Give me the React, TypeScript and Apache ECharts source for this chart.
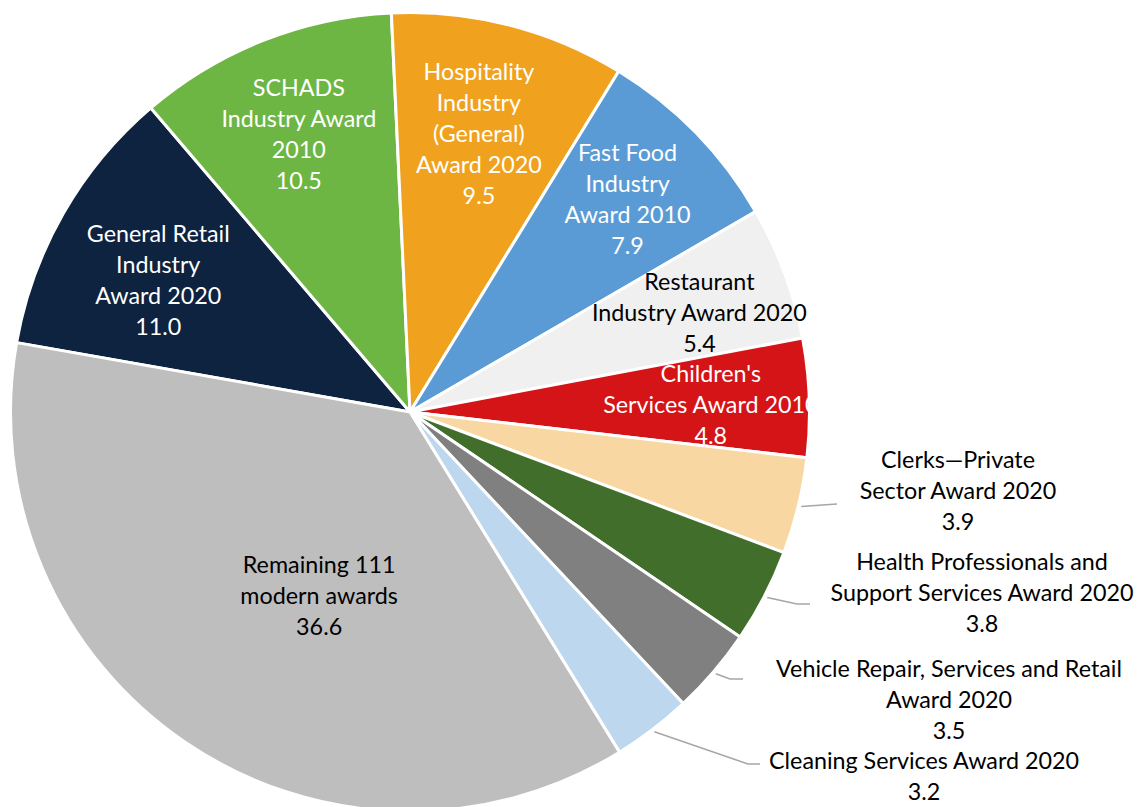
import React, { useEffect, useRef } from "react";
import * as echarts from "echarts";

// ---- data ----
const categories = [
  "General Retail Industry Award 2020",
  "SCHADS Industry Award 2010",
  "Hospitality Industry (General) Award 2020",
  "Fast Food Industry Award 2010",
  "Restaurant Industry Award 2020",
  "Children's Services Award 2010",
  "Clerks\u2014Private Sector Award 2020",
  "Health Professionals and Support Services Award 2020",
  "Vehicle Repair, Services and Retail Award 2020",
  "Cleaning Services Award 2020",
  "Remaining 111 modern awards",
];
const values = [11.0, 10.5, 9.5, 7.9, 5.4, 4.8, 3.9, 3.8, 3.5, 3.2, 36.6];
const labelTexts = [
  "General Retail\nIndustry\nAward 2020",
  "SCHADS\nIndustry Award\n2010",
  "Hospitality\nIndustry\n(General)\nAward 2020",
  "Fast Food\nIndustry\nAward 2010",
  "Restaurant\nIndustry Award 2020",
  "Children's\nServices Award 2010",
  "Clerks\u2014Private\nSector Award 2020",
  "Health Professionals and\nSupport Services Award 2020",
  "Vehicle Repair, Services and Retail\nAward 2020",
  "Cleaning Services Award 2020",
  "Remaining 111\nmodern awards",
];

// ---- styles ----
const sliceColors = [
  "#0E2340", "#6DB644", "#F0A21E", "#5B9BD5", "#F0F0F0", "#D51418",
  "#F8D7A3", "#426E2B", "#808080", "#BDD7EE", "#BEBEBE",
];
const textColors = [
  "#FFFFFF", "#FFFFFF", "#FFFFFF", "#FFFFFF", "#000000", "#FFFFFF",
  "#000000", "#000000", "#000000", "#000000", "#000000",
];
const outsideLabel = [false, false, false, false, false, false, true, true, true, true, false];
// nudges for inside labels (from library default position)
const insideNudge: Record<number, [number, number]> = {
  0: [6, 15], 1: [-2, -2], 2: [-5, 9], 3: [5, -6], 4: [11, 3], 5: [4, 3], 10: [76, -63],
};
// outside labels: label centre, elbow and end of leader line
const outsideLayout: Record<number, { c: [number, number]; elbow: [number, number]; end: [number, number] }> = {
  6: { c: [958, 490], elbow: [837, 504], end: [837, 504] },
  7: { c: [982, 592], elbow: [797, 604], end: [810, 604] },
  8: { c: [949, 699], elbow: [730, 679], end: [743, 679] },
  9: { c: [924, 775], elbow: [748, 764], end: [760, 764] },
};

const CENTER: [number, number] = [410, 412];
const R = 399.5;

export default function App() {
  const ref = useRef<HTMLDivElement>(null);
  useEffect(() => {
    document.body.style.margin = "0";
    const chart = echarts.init(ref.current!, null, { renderer: "svg" });
    const mainData = values.map((v, i) => ({
      value: v,
      name: categories[i],
      itemStyle: { color: sliceColors[i] },
    }));
    const labelData = values.map((v, i) => ({
      value: v,
      name: categories[i],
      label: {
        position: outsideLabel[i] ? "outside" : "inside",
        color: textColors[i],
      },
      labelLine: { show: outsideLabel[i] },
    }));
    chart.setOption({
      animation: false,
      series: [
        {
          type: "pie",
          radius: [0, R],
          center: CENTER,
          startAngle: 170,
          clockwise: true,
          silent: true,
          data: mainData,
          label: { show: false },
          labelLine: { show: false },
          itemStyle: { borderColor: "#FFFFFF", borderWidth: 3 },
        },
        {
          type: "pie",
          radius: [188.5, R],
          center: CENTER,
          startAngle: 170,
          clockwise: true,
          silent: true,
          avoidLabelOverlap: false,
          data: labelData,
          itemStyle: { color: "rgba(0,0,0,0)", borderWidth: 0 },
          label: {
            show: true,
            fontFamily: "Lato",
            fontSize: 23.3,
            lineHeight: 31,
            formatter: (p: any) => labelTexts[p.dataIndex] + "\n" + p.value.toFixed(1),
          },
          labelLine: {
            length: 15,
            length2: 10,
            lineStyle: { color: "#A6A6A6", width: 1.5 },
          },
          labelLayout: (params: any) => {
            const i = params.dataIndex;
            const rect = params.labelRect;
            if (outsideLayout[i]) {
              const o = outsideLayout[i];
              const pts = params.labelLinePoints;
              let start = [pts[0][0], pts[0][1]];
              const ddx = pts[1][0] - pts[0][0];
              const ddy = pts[1][1] - pts[0][1];
              const len = Math.sqrt(ddx * ddx + ddy * ddy) || 1;
              start = [start[0] + (ddx / len) * 3, start[1] + (ddy / len) * 3];
              return {
                x: o.c[0],
                y: o.c[1],
                align: "center",
                verticalAlign: "middle",
                labelLinePoints: [start, o.elbow, o.end],
              };
            }
            const n = insideNudge[i] || [0, 0];
            return {
              x: rect.x + rect.width / 2 + n[0],
              y: rect.y + rect.height / 2 + n[1],
              align: "center",
              verticalAlign: "middle",
            };
          },
        },
      ],
    });
    return () => chart.dispose();
  }, []);
  return <div ref={ref} style={{ width: 1137, height: 807 }} />;
}
